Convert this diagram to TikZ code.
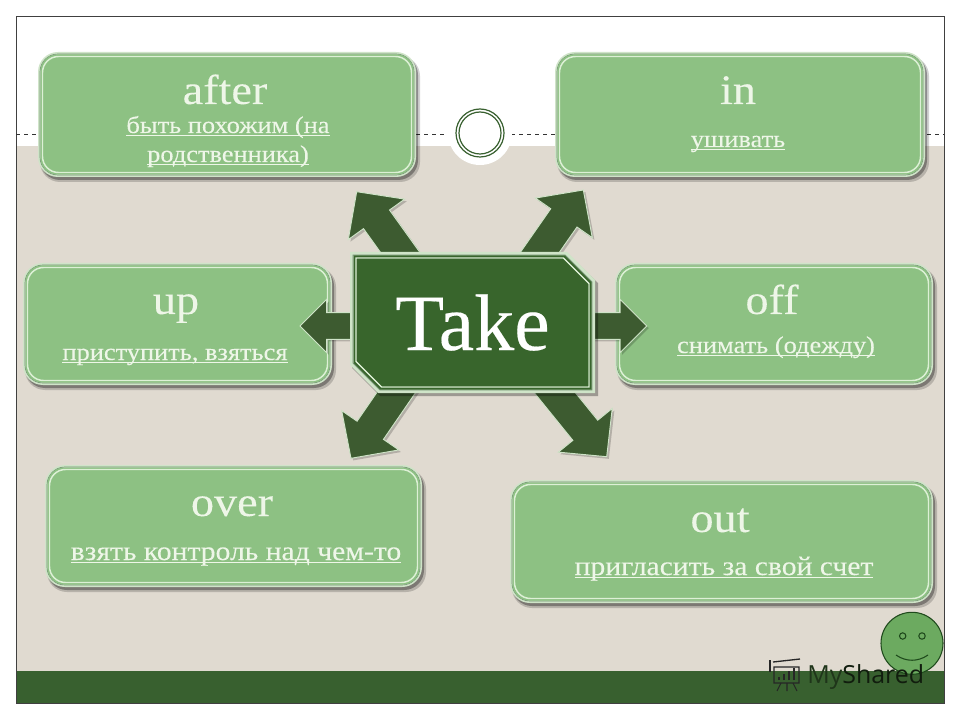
\documentclass[tikz,border=0pt]{standalone}
\usepackage{fontspec}
\setmainfont{Liberation Serif}
\newfontfamily\wideserif[FakeStretch=1.1,FakeBold=0.12]{Liberation Serif}
\newfontfamily\takeserif[FakeBold=0.2]{Liberation Serif}
\newfontfamily\marksans{Open Sans}
\usetikzlibrary{calc}
\definecolor{bgbeige}{HTML}{E0DAD0}
\definecolor{bardark}{HTML}{38602F}
\definecolor{boxfill}{HTML}{8DC183}
\definecolor{palerim}{HTML}{CFE4C8}
\definecolor{paleline}{HTML}{DDF0D6}
\definecolor{rimdark}{HTML}{6F8F70}
\definecolor{arrowfill}{HTML}{3D5B30}
\definecolor{takefill}{HTML}{38652C}
\definecolor{labeltxt}{HTML}{EEF6E8}
\definecolor{smile}{HTML}{6CAA60}
\definecolor{smileline}{HTML}{1F4A1C}
\pgfdeclarelayer{boxes}
\pgfdeclarelayer{arrows}
\pgfsetlayers{boxes,arrows,main}
\newcommand\ulx[1]{\underline{\smash{#1}}}
\tikzset{
  titletxt/.style={anchor=base,inner sep=0pt,text=labeltxt,font=\wideserif\fontsize{31.5}{31.5}\selectfont},
  subtxt/.style={anchor=base,inner sep=0pt,text=labeltxt,font=\wideserif\fontsize{18}{18}\selectfont},
  subbig/.style={anchor=base,inner sep=0pt,text=labeltxt,font=\wideserif\fontsize{20.2}{20.2}\selectfont},
  holder/.style={inner sep=0pt,rectangle},
  blockarrow/.style={fill=arrowfill,draw=palerim,line width=0.7pt,line join=miter,
    preaction={fill=black,opacity=.2,draw=none,transform canvas={shift={(1.6pt,-1.6pt)}}}}
}
% name, x1,y1,x2,y2
\newcommand\gbox[5]{%
  \begin{pgfonlayer}{boxes}
    \fill[black,opacity=.18,rounded corners=15pt] ({#2+2},{#3+4}) rectangle ({#4+4},{#5+5});
    \fill[black,opacity=.32,rounded corners=15pt] ({#2+2},{#3+3}) rectangle ({#4+2},{#5+3});
    \fill[palerim,rounded corners=15pt] (#2,#3) rectangle (#4,#5);
    \draw[rimdark,line width=0.5pt,rounded corners=13.5pt] ({#2+2},{#3+2}) rectangle ({#4-2},{#5-2});
    \fill[boxfill,rounded corners=12.5pt] ({#2+2.5},{#3+2.5}) rectangle ({#4-2.5},{#5-2.5});
    \draw[paleline,line width=1.1pt,rounded corners=12pt] ({#2+4.5},{#3+4.5}) rectangle ({#4-4.5},{#5-4.5});
  \end{pgfonlayer}
  \node[holder,minimum width={(#4-#2)*0.75pt},minimum height={(#5-#3)*0.75pt}] (#1) at ({(#2+#4)/2},{(#3+#5)/2}) {};
}
% base, tip, head length, head half width, shaft half width
\newcommand\barrow[5]{%
  \begin{pgfonlayer}{arrows}
    \coordinate (nk) at ($(#2)!#3!(#1)$);
    \coordinate (bk) at ($(#1)!-22pt!(#2)$);
    \path[blockarrow] (#2) -- ($(nk)!#4!90:(#2)$) -- ($(nk)!#5!90:(#2)$) -- ($(bk)!#5!90:(#2)$)
      -- ($(bk)!#5!-90:(#2)$) -- ($(nk)!#5!-90:(#2)$) -- ($(nk)!#4!-90:(#2)$) -- cycle;
  \end{pgfonlayer}
}
% chamfered outline at inset i
\newcommand\takepath[1]{(350+#1,252+#1) -- (567-#1*0.6,252+#1) -- (595-#1,280+#1*0.6) -- (595-#1,393-#1) -- (378+#1*0.6,393-#1) -- (350+#1,365-#1*0.6) -- cycle}
\begin{document}
\begin{tikzpicture}[x=0.75pt,y=-0.75pt]
\useasboundingbox (0,0) rectangle (960,720);
\begin{pgfonlayer}{boxes}
  \fill[white] (0,0) rectangle (960,720);
  \fill[bgbeige] (16,146) rectangle (944,671);
  \fill[bardark] (16,671) rectangle (944,703);
  \draw[black!75,line width=0.7pt] (16,16) rectangle (944,703);
  \draw[black!80,line width=0.4pt,dashed] (16,134) -- (449,134);
  \draw[black!80,line width=0.4pt,dashed] (511,134) -- (944,134);
  \fill[white] (480,133) circle[radius=32];
  \draw[bardark,line width=0.9pt] (480,133) circle[radius=24];
  \draw[bardark,line width=0.9pt] (480,133) circle[radius=21];
\end{pgfonlayer}

\gbox{after}{38}{52}{416}{177}
\gbox{in}{555}{52}{925}{177}
\gbox{up}{23}{263}{332}{385}
\gbox{off}{615}{263}{933}{385}
\gbox{over}{45}{465}{422}{587}
\gbox{out}{510}{480}{933}{603}

\node[titletxt] (afterT) at (225,104) {after};
\node[subtxt] (afterS1) at (228,133) {\ulx{быть похожим (на}};
\node[subtxt] (afterS2) at (228,162) {\ulx{родственника)}};
\node[titletxt] (inT) at (738,104) {in};
\node[subtxt] (inS) at (738,147) {\ulx{ушивать}};
\node[titletxt] (upT) at (176,314) {up};
\node[subtxt] (upS) at (175,360) {\ulx{приступить, взяться}};
\node[titletxt] (offT) at (772,314) {off};
\node[subtxt] (offS) at (776,353) {\ulx{снимать (одежду)}};
\node[titletxt] (overT) at (232,516) {over};
\node[subbig] (overS) at (236,560) {\ulx{взять контроль над чем-то}};
\node[titletxt] (outT) at (720,532) {out};
\node[subbig] (outS) at (724,575) {\ulx{пригласить за свой счет}};

% centre block
\fill[black,opacity=.3] (352,255) -- (569,255) -- (598,283) -- (598,396) -- (380,396) -- (352,368) -- cycle;
\fill[palerim] \takepath{0};
\draw[rimdark,line width=0.5pt] \takepath{3};
\fill[takefill] \takepath{3.5};
\draw[paleline,line width=1.1pt] \takepath{6};
\fill[takefill] \takepath{7};
\node[holder,minimum width=183.75pt,minimum height=105.75pt] (take) at (472.5,322.5) {};
\node[anchor=base,inner sep=0pt,text=white,font=\takeserif\fontsize{60}{60}\selectfont] (takeT) at (472.5,350) {Take};

% arrows
\coordinate (tipAfter) at (356.7,191.7);
\coordinate (tipIn) at (583.3,190);
\coordinate (tipUp) at (300,326);
\coordinate (tipOff) at (646.7,326);
\coordinate (tipOver) at (351,458.3);
\coordinate (tipOut) at (606.7,456.7);
\coordinate (bAfter) at ($(take.north west)+(50,0)$);
\coordinate (bIn) at ($(take.north east)+(-55,0)$);
\coordinate (bUp) at ($(take.west)+(0,3.5)$);
\coordinate (bOff) at ($(take.east)+(0,3.5)$);
\coordinate (bOver) at ($(take.south west)+(46,0)$);
\coordinate (bOut) at ($(take.south east)+(-40,0)$);
\barrow{bAfter}{tipAfter}{25.5pt}{26pt}{12pt}
\barrow{bIn}{tipIn}{25.5pt}{26pt}{12pt}
\barrow{bUp}{tipUp}{20pt}{20pt}{10pt}
\barrow{bOff}{tipOff}{20pt}{20pt}{10pt}
\barrow{bOver}{tipOver}{25.5pt}{26pt}{12pt}
\barrow{bOut}{tipOut}{25.5pt}{26pt}{12pt}

% smiley
\draw[smileline,fill=smile,line width=0.8pt] (912,643.3) circle[radius=31];
\draw[smileline,line width=0.8pt] (902.7,636) circle[radius=3.2];
\draw[smileline,line width=0.8pt] (922,636) circle[radius=3.2];
\draw[smileline,line width=0.8pt] (896,655) .. controls (906,662) and (918,662) .. (928,655);

% watermark
\draw[black!85,line width=1pt,fill=none] (773,662) -- (800,659) (774,667) rectangle (799,683);
\draw[black!85,line width=1pt] (770,660) -- (770,672);
\draw[black!85,line width=1.6pt] (779,680) -- (779,677) (784,680) -- (784,674) (789,680) -- (789,671) (794,680) -- (794,668);
\draw[black!85,line width=0.8pt] (781,683) -- (777,691) (787,683) -- (787,691) (793,683) -- (797,691);
\node[anchor=base west,inner sep=0pt,font=\marksans\fontsize{18.7}{18.7}\selectfont] (mark) at (807,683) {{\color{black!45!bardark}My}{\color{black!70!bardark}Shared}};
\end{tikzpicture}
\end{document}
